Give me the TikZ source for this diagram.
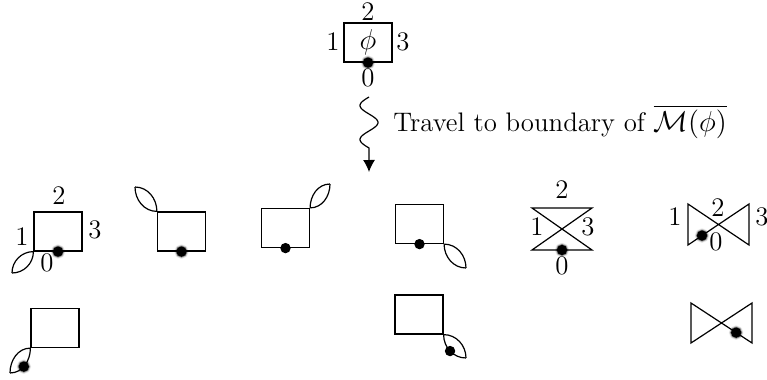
\documentclass[tikz,border=0pt]{standalone}
\usepackage{amsmath,amssymb}
\usetikzlibrary{arrows.meta, calc, shadows.blur}

\begin{document}
\begin{tikzpicture}[
    x=0.5pt, y=-0.5pt,
    every node/.style={font=\fontsize{13.4}{16}\selectfont},
    side/.style ={draw=black, line width=0.6pt},
    cell/.style ={draw=black, line width=0.6pt, minimum width=24pt, minimum height=19.5pt, inner sep=0pt},
    lbl/.style  ={inner sep=0pt},
    dot/.style  ={circle, fill=black, inner sep=0pt, minimum size=5.2pt},
    fuzzy/.style={dot, blur shadow={shadow xshift=0pt, shadow yshift=0pt, shadow scale=1.05, shadow blur radius=0.9pt, shadow opacity=85}},
    travel/.style={-{Latex[length=6pt,width=6pt]}, line width=0.6pt}
]
\useasboundingbox (0,0) rectangle (767,380);

% Top: the cell phi with its sides
\node[cell] (top) at (368,42.5) {$\phi$};
\node[fuzzy] (dtop) at (top.south) {};
\node[lbl] (t2) at (368,12) {2};
\node[lbl] (t1) at (333,42) {1};
\node[lbl] (t3) at (403,42) {3};
\node[lbl] (t0) at (368,78) {0};

% Travel arrow (wavy)
\coordinate (snkA) at (369,97);
\coordinate (snkB) at (369,172);
\draw[travel] plot[domain=0:1.5, samples=40, smooth] ({369-9*sin(360*\x)}, {97+34*\x}) -- (snkB);
\node[anchor=west, inner sep=0pt] (trv) at (393,122) {Travel to boundary of $\overline{\mathcal{M}(\phi)}$};

% Row 1: squares with a loop at one corner
\node[cell] (sqA) at (58,231.5) {};
\coordinate (tipA) at (12,273);
\draw[side] (sqA.south west) to[out=180,in=90] (tipA);
\draw[side] (sqA.south west) to[out=-90,in=0] (tipA);
\node[fuzzy] (dA) at (sqA.south) {};
\node[lbl] (a2) at (59,196) {2};
\node[lbl] (a1) at (22,237) {1};
\node[lbl] (a3) at (95,230) {3};
\node[lbl] (a0) at (47,263) {0};

\node[cell] (sqB) at (181.5,231.5) {};
\coordinate (tipB) at (135,187);
\draw[side] (sqB.north west) to[out=180,in=-90] (tipB);
\draw[side] (sqB.north west) to[out=90,in=0] (tipB);
\node[fuzzy] (dB) at (sqB.south) {};

\node[cell] (sqC) at (285.5,228) {};
\coordinate (tipC) at (330,184);
\draw[side] (sqC.north east) to[out=90,in=180] (tipC);
\draw[side] (sqC.north east) to[out=0,in=-90] (tipC);
\node[dot] (dC) at (sqC.south) {};

\node[cell] (sqD) at (419.5,224) {};
\coordinate (tipD) at (466,268);
\draw[side] (sqD.south east) to[out=0,in=90] (tipD);
\draw[side] (sqD.south east) to[out=-90,in=180] (tipD);
\node[dot] (dD) at (sqD.south) {};

% Row 1: hourglass and bowtie
\coordinate (g1) at (532,208);
\coordinate (g2) at (592,208);
\coordinate (g3) at (592,250);
\coordinate (g4) at (532,250);
\draw[side] (g1) -- (g2) -- (g4) -- (g3) -- cycle;
\node[fuzzy] (dG) at ($(g3)!0.5!(g4)$) {};
\node[lbl] (g2l) at (562,190) {2};
\node[lbl] (g1l) at (537,227) {1};
\node[lbl] (g3l) at (588,227) {3};
\node[lbl] (g0l) at (562,266) {0};

\coordinate (h1) at (688,204);
\coordinate (h2) at (749,204);
\coordinate (h3) at (749,245);
\coordinate (h4) at (688,245);
\draw[side] (h1) -- (h3) -- (h2) -- (h4) -- cycle;
\node[fuzzy] (dH) at ($(h4)!0.23!(h2)$) {};
\node[lbl] (h1l) at (675,217) {1};
\node[lbl] (h2l) at (718,208) {2};
\node[lbl] (h3l) at (762,217) {3};
\node[lbl] (h0l) at (716,242) {0};

% Row 2
\node[cell] (sqE) at (55,328) {};
\coordinate (tipE) at (10,373);
\draw[side] (sqE.south west) to[out=180,in=90] (tipE);
\draw[side] (sqE.south west) to[out=-90,in=0] node[pos=0.55, fuzzy] (dE) {} (tipE);

\node[cell] (sqF) at (419,314.5) {};
\coordinate (tipF) at (466,358);
\draw[side] (sqF.south east) to[out=0,in=90] (tipF);
\draw[side] (sqF.south east) to[out=-90,in=180] node[pos=0.5, dot] (dF) {} (tipF);

\coordinate (i1) at (691,303);
\coordinate (i2) at (752,303);
\coordinate (i3) at (752,343);
\coordinate (i4) at (691,343);
\draw[side] (i1) -- (i3) -- (i2) -- (i4) -- cycle;
\node[fuzzy] (dI) at ($(i1)!0.74!(i3)$) {};

\end{tikzpicture}
\end{document}
